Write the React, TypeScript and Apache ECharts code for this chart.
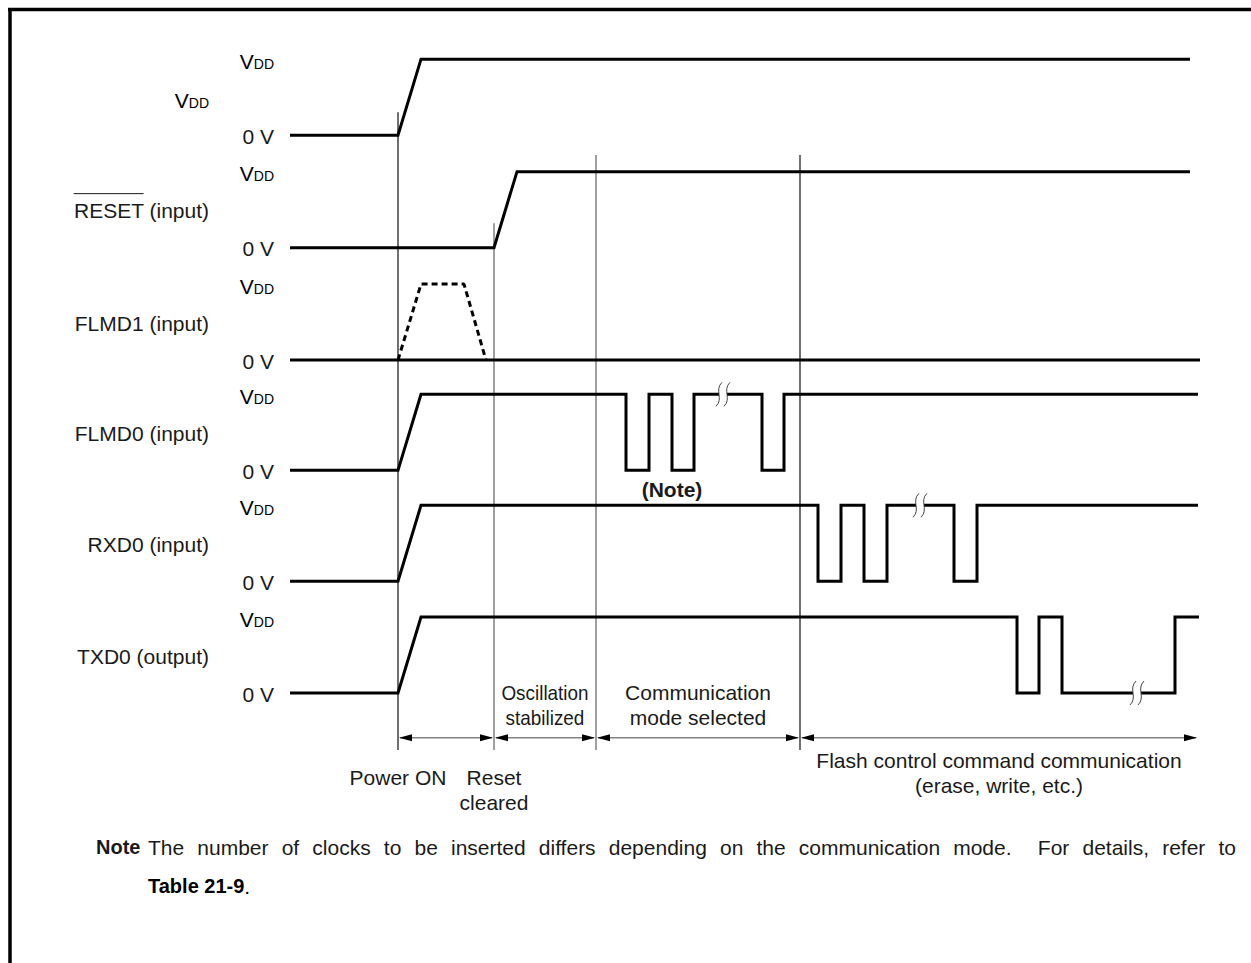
import React, { useEffect, useRef } from "react";
import * as echarts from "echarts";

// ---------- data (time in arbitrary units, level 0 = 0 V, 1 = VDD) ----------
const signalNames = ["VDD", "RESET (input)", "FLMD1 (input)", "FLMD0 (input)", "RXD0 (input)", "TXD0 (output)"];
const rowBaselines = [7.34, 5.86, 4.38, 2.93, 1.47, 0];

const vddWave = [[0, 0], [108, 0], [131, 1], [900, 1]];
const resetWave = [[0, 0], [204, 0], [227, 1], [900, 1]];
const flmd1Wave = [[0, 0], [910, 0]];
const flmd1Optional = [[108, 0], [131, 1], [174, 1], [196, 0]];
const flmd0Wave = [
  [0, 0], [108, 0], [131, 1], [336, 1], [336, 0], [359, 0], [359, 1], [382, 1], [382, 0],
  [404, 0], [404, 1], [472, 1], [472, 0], [494, 0], [494, 1], [908, 1],
];
const rxd0Wave = [
  [0, 0], [108, 0], [131, 1], [528, 1], [528, 0], [551, 0], [551, 1], [574, 1], [574, 0],
  [597, 0], [597, 1], [664, 1], [664, 0], [687, 0], [687, 1], [908, 1],
];
const txd0Wave = [
  [0, 0], [108, 0], [131, 1], [727, 1], [727, 0], [749, 0], [749, 1], [772, 1], [772, 0],
  [885, 0], [885, 1], [909, 1],
];
const waves = [vddWave, resetWave, flmd1Wave, flmd0Wave, rxd0Wave, txd0Wave];

// break marks: [time, row, level]
const breakMarks = [[433, 3, 1], [630, 4, 1], [847, 5, 0]];

// timing boundaries
const markerTimes = [108, 204, 306, 510];
const markerTops = [7.64, 6.18, 7.08, 7.08];
const markerBottom = -0.75;
const arrowLevel = -0.59;
const phaseEnds = [108, 204, 306, 510, 908];
const phaseLabels = ["", "Oscillation\nstabilized", "Communication\nmode selected", "Flash control command communication\n(erase, write, etc.)"];
const phaseLabelLevels = [0, -0.16, -0.16, -1.05];
const phaseLabelSqueeze = [1, 0.9, 1, 1];
const eventLabels = ["Power ON", "Reset\ncleared"];
const eventLabelLevel = -0.95;
const noteMarkTime = 382;
const noteMarkLevel = 2.68;

const noteLine1 = "The number of clocks to be inserted differs depending on the communication mode.  For details, refer to";

const levelLabelX = -16;
const nameLabelX = -81;

const FONT = "'Liberation Sans', Arial, Helvetica, sans-serif";
const INK = "#1a1a1a";
const FS = 21;
const NFS = 21;
const NBFS = 20;

function measure(text: string, font: string) {
  const c = document.createElement("canvas").getContext("2d");
  if (!c) return text.length * 10;
  c.font = font;
  return c.measureText(text).width;
}

const vddRich = {
  v: { fontSize: FS, fontFamily: FONT, color: INK, verticalAlign: "bottom" as const },
  d: { fontSize: 14, fontFamily: FONT, color: INK, verticalAlign: "bottom" as const, padding: [0, 0, 1, 0] },
};

export default function App() {
  const ref = useRef<HTMLDivElement>(null);
  useEffect(() => {
    if (!ref.current) return;
    const chart = echarts.init(ref.current, undefined, { renderer: "svg" });

    const inputW = measure(" (input)", `${FS}px ${FONT}`);
    const resetW = measure("RESET", `${FS}px ${FONT}`);

    const lineSeries: any[] = waves.map((w, i) => ({
      type: "line",
      name: signalNames[i],
      data: w.map(([t, l]) => [t, rowBaselines[i] + l]),
      symbol: "none",
      silent: true,
      z: 3,
      lineStyle: { color: "#000", width: 3, join: "miter" },
    }));
    lineSeries.push({
      type: "line",
      name: "FLMD1 optional",
      data: flmd1Optional.map(([t, l]) => [t, rowBaselines[2] + l]),
      symbol: "none",
      silent: true,
      z: 3,
      lineStyle: { color: "#000", width: 3, type: [6, 4] },
    });

    const markers = {
      type: "custom",
      coordinateSystem: "cartesian2d",
      silent: true,
      clip: false,
      z: 2,
      data: markerTimes.map((t, i) => [t, markerTops[i]]),
      renderItem: (params: any, api: any) => {
        const t = api.value(0);
        const top = api.coord([t, api.value(1)]);
        const bot = api.coord([t, markerBottom]);
        return {
          type: "line",
          shape: { x1: top[0], y1: top[1], x2: bot[0], y2: bot[1] },
          style: { stroke: params.dataIndex === 0 || params.dataIndex === 3 ? "#333" : "#777", lineWidth: 1.4 },
        };
      },
    };

    const arrows = {
      type: "custom",
      coordinateSystem: "cartesian2d",
      silent: true,
      clip: false,
      z: 2,
      data: phaseEnds.slice(0, -1).map((a, i) => [a, phaseEnds[i + 1]]),
      renderItem: (_p: any, api: any) => {
        const p1 = api.coord([api.value(0), arrowLevel]);
        const p2 = api.coord([api.value(1), arrowLevel]);
        const L = 13, H = 3.5;
        return {
          type: "group",
          children: [
            { type: "line", shape: { x1: p1[0] + 2, y1: p1[1], x2: p2[0] - 2, y2: p2[1] }, style: { stroke: "#444", lineWidth: 1 } },
            { type: "polygon", shape: { points: [[p1[0] + 1, p1[1]], [p1[0] + 1 + L, p1[1] - H], [p1[0] + 1 + L, p1[1] + H]] }, style: { fill: "#000" } },
            { type: "polygon", shape: { points: [[p2[0] - 1, p2[1]], [p2[0] - 1 - L, p2[1] - H], [p2[0] - 1 - L, p2[1] + H]] }, style: { fill: "#000" } },
          ],
        };
      },
    };

    const breaks = {
      type: "custom",
      coordinateSystem: "cartesian2d",
      silent: true,
      clip: false,
      z: 5,
      data: breakMarks.map(([t, r, l]) => [t, rowBaselines[r] + l]),
      renderItem: (_p: any, api: any) => {
        const p = api.coord([api.value(0), api.value(1)]);
        const curve = (cx: number) => ({
          type: "bezierCurve",
          shape: {
            x1: cx + 3, y1: p[1] - 12,
            cpx1: cx - 5, cpy1: p[1] - 4,
            cpx2: cx + 5, cpy2: p[1] + 4,
            x2: cx - 3, y2: p[1] + 12,
          },
          style: { stroke: "#444", lineWidth: 1, fill: null },
        });
        return {
          type: "group",
          children: [
            { type: "rect", shape: { x: p[0] - 4, y: p[1] - 3, width: 8, height: 6 }, style: { fill: "#fff" } },
            curve(p[0] - 4),
            curve(p[0] + 4),
          ],
        };
      },
    };

    const rowLabels = {
      type: "custom",
      coordinateSystem: "cartesian2d",
      silent: true,
      clip: false,
      z: 4,
      data: rowBaselines.map((b) => [levelLabelX, b]),
      renderItem: (params: any, api: any) => {
        const i = params.dataIndex;
        const b = rowBaselines[i];
        const hi = api.coord([levelLabelX, b + 1]);
        const lo = api.coord([levelLabelX, b]);
        const nm = api.coord([nameLabelX, b + 0.5]);
        const name = signalNames[i];
        const children: any[] = [
          { type: "text", x: hi[0], y: hi[1] + 2, style: { text: "{v|V}{d|DD}", rich: vddRich, align: "right", verticalAlign: "middle" } },
          { type: "text", x: lo[0], y: lo[1] + 1, style: { text: "0 V", font: `${FS}px ${FONT}`, fill: INK, align: "right", verticalAlign: "middle" } },
          name === "VDD"
            ? { type: "text", x: nm[0], y: nm[1] + 3, style: { text: "{v|V}{d|DD}", rich: vddRich, align: "right", verticalAlign: "middle" } }
            : { type: "text", x: nm[0], y: nm[1] + 1, style: { text: name, font: `${FS}px ${FONT}`, fill: INK, align: "right", verticalAlign: "middle" } },
        ];
        if (name.startsWith("RESET")) {
          const xr = nm[0] - inputW;
          children.push({
            type: "line",
            shape: { x1: xr - resetW, y1: nm[1] - 16, x2: xr, y2: nm[1] - 16 },
            style: { stroke: INK, lineWidth: 1 },
          });
        }
        return { type: "group", children };
      },
    };

    const annItems: { t: number; v: number; text: string; top: boolean; bold: boolean; sx: number }[] = [];
    phaseLabels.forEach((txt, i) => {
      if (!txt) return;
      annItems.push({ t: (phaseEnds[i] + phaseEnds[i + 1]) / 2, v: phaseLabelLevels[i], text: txt, top: false, bold: false, sx: phaseLabelSqueeze[i] });
    });
    eventLabels.forEach((txt, i) => {
      annItems.push({ t: phaseEnds[i], v: eventLabelLevel, text: txt, top: true, bold: false, sx: 1 });
    });
    annItems.push({ t: noteMarkTime, v: noteMarkLevel, text: "(Note)", top: false, bold: true, sx: 1 });

    const annotations = {
      type: "custom",
      coordinateSystem: "cartesian2d",
      silent: true,
      clip: false,
      z: 4,
      data: annItems.map((a) => [a.t, a.v]),
      renderItem: (params: any, api: any) => {
        const a = annItems[params.dataIndex];
        const p = api.coord([api.value(0), api.value(1)]);
        return {
          type: "text",
          x: p[0],
          y: p[1],
          scaleX: a.sx,
          style: {
            text: a.text,
            font: `${a.bold ? "bold " : ""}${FS}px ${FONT}`,
            fill: INK,
            align: "center",
            verticalAlign: a.top ? "top" : "middle",
            lineHeight: 25,
          },
        };
      },
    };

    // justified first note line
    const nFont = `${NFS}px ${FONT}`;
    const words = noteLine1.split(" ");
    const naturalW = measure(noteLine1, nFont);
    const spaceW = measure(" ", nFont);
    const gaps = words.length - 1;
    const extra = Math.max(0, (1236 - 148 - naturalW) / gaps);
    const wordEls: any[] = [];
    let cx = 148;
    words.forEach((w) => {
      if (w) {
        wordEls.push({ type: "text", x: cx, y: 847, style: { text: w, font: nFont, fill: INK, verticalAlign: "middle" } });
        cx += measure(w, nFont);
      }
      cx += spaceW + extra;
    });

    chart.setOption({
      animation: false,
      backgroundColor: "#fff",
      grid: { left: 0, right: 0, top: 9, bottom: 42 },
      xAxis: { type: "value", min: -290, max: 961, show: false },
      yAxis: { type: "value", min: -3, max: 9, show: false },
      series: [markers, arrows, ...lineSeries, breaks, rowLabels, annotations],
      graphic: [
        { type: "line", shape: { x1: 8, y1: 9.5, x2: 1251, y2: 9.5 }, style: { stroke: "#000", lineWidth: 3.5 } },
        { type: "line", shape: { x1: 10, y1: 8, x2: 10, y2: 963 }, style: { stroke: "#000", lineWidth: 3.5 } },
        { type: "text", x: 96, y: 847, style: { text: "Note", font: `bold ${NBFS}px ${FONT}`, fill: INK, verticalAlign: "middle" } },
        ...wordEls,
        {
          type: "text", x: 148, y: 886,
          style: {
            text: "{b|Table 21-9}{n|.}",
            rich: {
              b: { fontSize: NBFS, fontFamily: FONT, fontWeight: "bold", color: INK },
              n: { fontSize: NFS, fontFamily: FONT, color: INK },
            },
            verticalAlign: "middle",
          },
        },
      ],
    });
    return () => chart.dispose();
  }, []);
  return <div ref={ref} style={{ position: "fixed", left: 0, top: 0, width: 1251, height: 963, background: "#fff" }} />;
}
